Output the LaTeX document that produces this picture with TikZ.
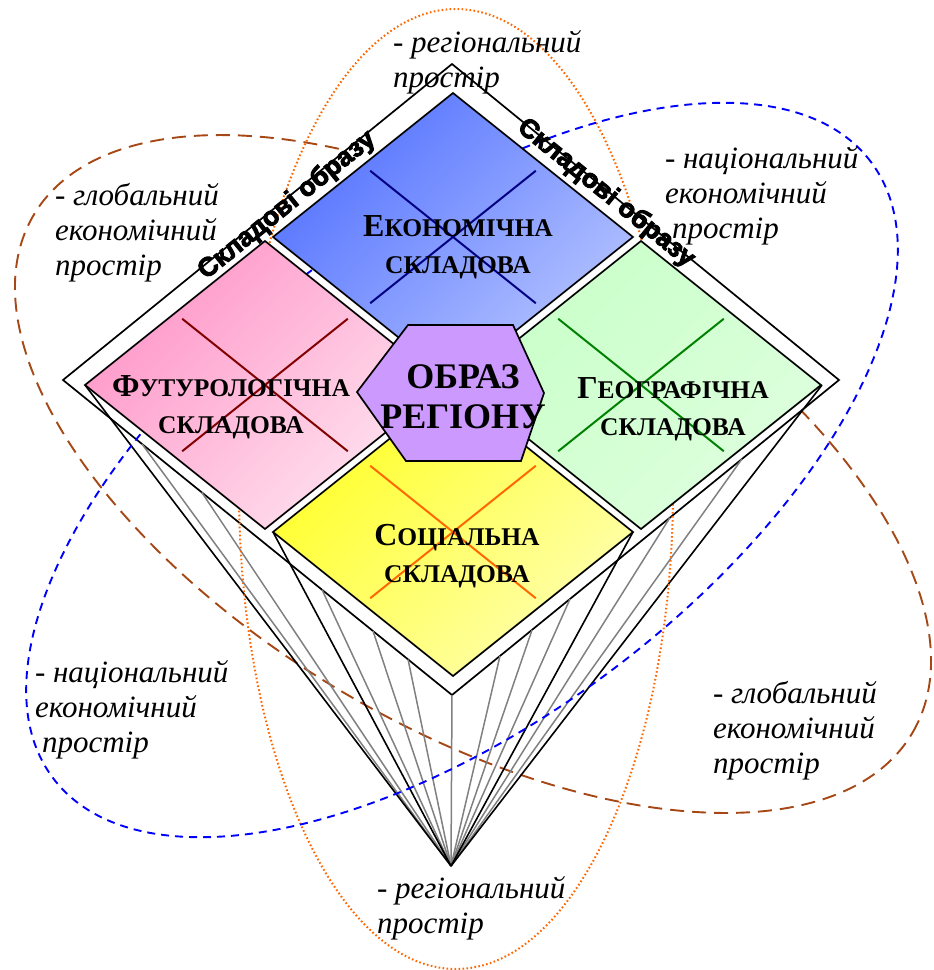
\documentclass[tikz,border=0pt]{standalone}
\usepackage{fontspec}
\usepackage{graphicx}
\setmainfont{Liberation Serif}
\newfontfamily\stripsans[BoldFeatures={FakeBold=3.5}]{Liberation Sans}
\usetikzlibrary{calc}

\definecolor{regorange}{RGB}{255,102,0}
\definecolor{globbrown}{RGB}{165,72,22}
\definecolor{natblue}{RGB}{0,0,255}
\definecolor{corefill}{RGB}{204,153,255}
\definecolor{ribgray}{RGB}{128,128,128}
\definecolor{ecoA}{RGB}{85,115,255}
\definecolor{ecoB}{RGB}{180,195,255}
\definecolor{futA}{RGB}{255,150,200}
\definecolor{futB}{RGB}{255,228,240}
\definecolor{geoA}{RGB}{200,255,200}
\definecolor{geoB}{RGB}{222,255,222}
\definecolor{socA}{RGB}{255,255,40}
\definecolor{socB}{RGB}{255,255,175}
\definecolor{ecoX}{RGB}{0,0,128}
\definecolor{futX}{RGB}{128,0,0}
\definecolor{geoX}{RGB}{0,128,0}
\definecolor{socX}{RGB}{255,102,0}

% one component square: rhombus with a cross through the edge midpoints
\newcommand\partsquare[6]{% name, cx, cy, shade from, shade to, cross colour
  \coordinate (#1T) at (#2,#3-144);
  \coordinate (#1R) at (#2+180,#3);
  \coordinate (#1B) at (#2,#3+144);
  \coordinate (#1L) at (#2-180,#3);
  \draw[sqline, top color=#4, bottom color=#5, shading angle=45]
    (#1T) -- (#1R) -- (#1B) -- (#1L) -- cycle;
  \coordinate (#1a) at ($(#1T)!0.5!(#1L)$);
  \coordinate (#1b) at ($(#1R)!0.5!(#1B)$);
  \coordinate (#1c) at ($(#1T)!0.5!(#1R)$);
  \coordinate (#1d) at ($(#1L)!0.5!(#1B)$);
  \draw[crossline, draw=#6] ($(#1a)!0.04!(#1b)$) -- ($(#1b)!0.04!(#1a)$);
  \draw[crossline, draw=#6] ($(#1c)!0.04!(#1d)$) -- ($(#1d)!0.04!(#1c)$);
}

\begin{document}
\begin{tikzpicture}[x=1pt,y=-1pt,
  every node/.style={inner sep=0pt, outer sep=0pt},
  sqline/.style={draw=black, line width=1.7pt, line join=miter},
  crossline/.style={line width=2pt},
  frameline/.style={draw=black, fill=white, line width=1.7pt},
  blackrib/.style={draw=black, line width=1.6pt},
  grayrib/.style={draw=ribgray, line width=1.5pt},
  regspace/.style={draw=regorange, line width=2pt, dash pattern=on 1.6pt off 2.4pt},
  globspace/.style={draw=globbrown, line width=1.9pt, dash pattern=on 14pt off 8pt},
  natspace/.style={draw=natblue, line width=1.9pt, dash pattern=on 8pt off 6pt},
  spacetext/.style={font=\itshape\fontsize{31}{35}\selectfont, anchor=base west, align=left},
  partlabel/.style={font=\bfseries\fontsize{25.5}{36.5}\selectfont, anchor=base, align=center},
  striptext/.style={font=\stripsans\bfseries\fontsize{26.5}{26.5}\selectfont, anchor=mid}]
\useasboundingbox (0,0) rectangle (934,970);

% global economic space (lies under the frame)
\draw[globspace, rotate around={-30.5:(473,474)}] (473,474) ellipse [x radius=510pt, y radius=254pt];

% frame of the components
\coordinate (fT) at (452,64);
\coordinate (fR) at (839,380);
\coordinate (fB) at (452,695);
\coordinate (fL) at (63,380);
\draw[frameline] (fT) -- (fR) -- (fB) -- (fL) -- cycle;

% pyramid ribs down to the apex
\coordinate (apex) at (451,866);
\foreach \t in {0.203,0.357,0.666,0.797,0.887}
  \draw[grayrib] ($(fL)!\t!(fB)$) -- (apex);
\foreach \t in {0.124,0.207,0.305,0.563,0.749}
  \draw[grayrib] ($(fB)!\t!(fR)$) -- (apex);
\draw[grayrib] (fB) -- (apex);
\draw[blackrib] (85,385) coordinate (ribA) -- (apex);
\draw[blackrib] (273,532) coordinate (ribB) -- (apex);
\draw[blackrib] (633,532) coordinate (ribC) -- (apex);
\draw[blackrib] (822,385) coordinate (ribD) -- (apex);

% regional and national spaces
\draw[regspace] (456,489) ellipse [x radius=217pt, y radius=480pt];
\draw[natspace, rotate around={37:(462,470)}] (462,470) ellipse [x radius=512pt, y radius=250pt];

% the four components
\partsquare{eco}{453}{237}{ecoA}{ecoB}{ecoX}
\partsquare{fut}{265}{385}{futA}{futB}{futX}
\partsquare{geo}{641}{385}{geoA}{geoB}{geoX}
\partsquare{soc}{453}{532}{socA}{socB}{socX}

% central hexagon
\draw[sqline, fill=corefill] (357,392) coordinate (h1) -- (408,325) coordinate (h2)
  -- (513,325) coordinate (h3) -- (544,393) coordinate (h4)
  -- (521,461) coordinate (h5) -- (406,461) coordinate (h6) -- cycle;
\node[font=\bfseries\fontsize{36}{40}\selectfont, anchor=base, align=center] (core) at (463,428) {ОБРАЗ\\РЕГІОНУ};

% component labels (anchored at the baseline of the second line)
\node[partlabel] (lblEco) at (458,273) {{\fontsize{32}{36.5}\selectfont Е}КОНОМІЧНА\\СКЛАДОВА};
\node[partlabel] (lblFut) at (231,433) {{\fontsize{32}{36.5}\selectfont Ф}УТУРОЛОГІЧНА\\СКЛАДОВА};
\node[partlabel] (lblGeo) at (673,435) {{\fontsize{32}{36.5}\selectfont Г}ЕОГРАФІЧНА\\СКЛАДОВА};
\node[partlabel] (lblSoc) at (457,582) {{\fontsize{32}{36.5}\selectfont С}ОЦІАЛЬНА\\СКЛАДОВА};

% frame captions
\node[striptext, rotate=39] (stripL) at (290,209) {Складові образу};
\node[striptext, rotate=-39] (stripR) at (603,197) {Складові образу};

% space captions (anchored at the baseline of the last line)
\node[spacetext] (regTop) at (393,87) {- регіональний\\простір};
\node[spacetext] (regBot) at (377,933) {- регіональний\\простір};
\node[spacetext] (globTL) at (55,275) {- глобальний\\економічний\\простір};
\node[spacetext] (globBR) at (713,773) {- глобальний\\економічний\\простір};
\node[spacetext] (natTR) at (665,238) {- національний\\економічний\\\hspace*{7pt}простір};
\node[spacetext] (natBL) at (35,752) {- національний\\економічний\\\hspace*{7pt}простір};
\end{tikzpicture}
\end{document}
